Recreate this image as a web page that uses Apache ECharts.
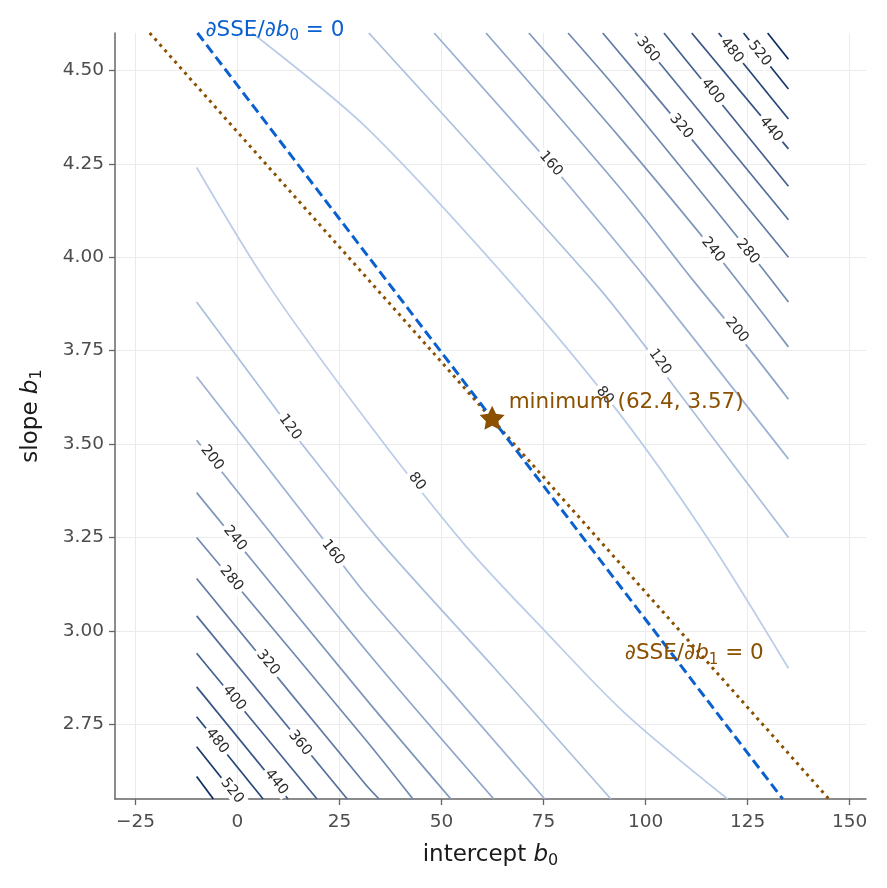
<!DOCTYPE html>
<html>
<head>
<meta charset="utf-8">
<script src="https://cdn.jsdelivr.net/npm/echarts@6/dist/echarts.min.js"></script>
<style>
  html, body { margin: 0; padding: 0; background: #fff; }
  #chart { width: 887px; height: 888px; }
</style>
</head>
<body>
<div id="chart"></div>
<script>
// SSE contour levels, lightest (inner) to darkest (outer)
const levels = [80, 120, 160, 200, 240, 280, 320, 360, 400, 440, 480, 520, 560];

// contour arcs below-left of the valley, one per level, [b0, b1]
const leftLines = [
  [[-10, 4.24], [7.3, 3.93], [32.5, 3.55], [55.7, 3.23], [75.3, 3.00], [94.9, 2.78], [120.1, 2.55]],
  [[-10, 3.88], [9.7, 3.59], [15.8, 3.50], [34.9, 3.24], [63, 2.90], [91.5, 2.55]],
  [[-10, 3.68], [20.7, 3.25], [31.3, 3.10], [51.4, 2.85], [75.3, 2.55]],
  [[-10, 3.51], [31.3, 2.95], [62.8, 2.55]],
  [[-10, 3.37], [31.3, 2.82], [52.3, 2.55]],
  [[-10, 3.25], [31.3, 2.71], [43.0, 2.55]],
  [[-10, 3.14], [31.3, 2.59], [34.7, 2.55]],
  [[-10, 3.04], [26.9, 2.55]],
  [[-10, 2.94], [19.5, 2.55]],
  [[-10, 2.85], [12.4, 2.55]],
  [[-10, 2.77], [6.3, 2.55]],
  [[-10, 2.69], [0.2, 2.55]],
  [[-10, 2.61], [-5.9, 2.55]]
];

// contour arcs above-right of the valley
const rightLines = [
  [[3.6, 4.6], [31.3, 4.35], [66.3, 3.94], [93.7, 3.58], [115.7, 3.24], [135, 2.90]],
  [[32.2, 4.6], [87.6, 3.93], [100, 3.76], [105.9, 3.67], [135, 3.25]],
  [[48.2, 4.6], [73.4, 4.29], [79.8, 4.21], [100.3, 3.94], [135, 3.46]],
  [[60.9, 4.6], [94.9, 4.17], [111.5, 3.94], [125, 3.76], [135, 3.62]],
  [[71.4, 4.6], [93.7, 4.32], [116.5, 4.02], [135, 3.76]],
  [[81.0, 4.6], [93.7, 4.44], [125, 4.02], [135, 3.88]],
  [[89.5, 4.6], [108.7, 4.35], [135, 4.00]],
  [[97.4, 4.6], [135, 4.10]],
  [[104.5, 4.6], [135, 4.19]],
  [[111.3, 4.6], [135, 4.29]],
  [[117.9, 4.6], [135, 4.37]],
  [[124, 4.6], [135, 4.45]],
  [[129.9, 4.6], [135, 4.53]]
];

// inline contour labels: [level, b0, b1]
const contourLabels = [
  [80, 44.0, 3.40], [120, 12.9, 3.545], [160, 23.4, 3.21], [200, -6.2, 3.463],
  [240, -0.6, 3.248], [280, -1.5, 3.14], [320, 7.5, 2.915], [360, 15.3, 2.70],
  [400, -0.8, 2.82], [440, 9.5, 2.595], [480, -5.0, 2.705], [520, -1.3, 2.572],
  [80, 90.0, 3.63], [120, 103.5, 3.72], [160, 76.8, 4.25], [200, 122.3, 3.805],
  [240, 116.5, 4.02], [280, 125.0, 4.015], [320, 108.7, 4.35], [360, 100.6, 4.556],
  [400, 116.4, 4.444], [440, 130.7, 4.342], [480, 121.1, 4.553], [520, 127.9, 4.545]
];

// zero-gradient lines and the minimum
const gradB0Line = [[-9.8, 4.6], [133.6, 2.55]];
const gradB1Line = [[-21.5, 4.6], [144.9, 2.55]];
const minimum = [62.4, 3.57];
const gradB1LabelAt = [94.9, 2.948];

const xTicks = [-25, 0, 25, 50, 75, 100, 125, 150];
const yTicks = [2.75, 3.0, 3.25, 3.5, 3.75, 4.0, 4.25, 4.5];

const FONT = 'DejaVu Sans';
const BLUE = '#0b60cf';
const BROWN = '#8b5000';
const STAR = 'path://M0,-10 L2.94,-4.05 L9.51,-3.09 L4.76,1.55 L5.88,8.09 L0,5 L-5.88,8.09 L-4.76,1.55 L-9.51,-3.09 L-2.94,-4.05 Z';

// light blue-grey -> navy
function levelColor(i) {
  const a = [186, 204, 232], b = [10, 42, 98];
  const t = i / (levels.length - 1);
  const c = a.map((v, k) => Math.round(v + (b[k] - v) * t));
  return `rgb(${c[0]},${c[1]},${c[2]})`;
}

// rich styles for "text b_k" with a lowered subscript
function mathRich(color, size) {
  return {
    n: { fontFamily: FONT, fontSize: size, color: color, lineHeight: 28 },
    i: { fontFamily: FONT, fontSize: size, color: color, fontStyle: 'italic', lineHeight: 28 },
    s: { fontFamily: FONT, fontSize: Math.round(size * 0.7), color: color, lineHeight: 16, verticalAlign: 'bottom' }
  };
}

const chart = echarts.init(document.getElementById('chart'));

function contourSeries() {
  const out = [];
  levels.forEach((lv, i) => {
    [leftLines[i], rightLines[i]].forEach(pts => {
      out.push({
        type: 'line',
        data: pts,
        smooth: 0.3,
        showSymbol: false,
        silent: true,
        z: 2,
        lineStyle: { color: levelColor(i), width: 1.7 }
      });
    });
  });
  return out;
}

const axisCommon = {
  axisLine: { show: true, onZero: false, lineStyle: { color: '#666', width: 1.5 } },
  splitLine: { show: true, lineStyle: { color: '#ebebeb', width: 1 } },
  nameTextStyle: { fontFamily: FONT, fontSize: 23, color: '#1a1a1a', lineHeight: 28,
    rich: mathRich('#1a1a1a', 23) }
};
const tickStyle = { show: true, length: 6, lineStyle: { color: '#666', width: 1.3 } };
const minus = v => (v < 0 ? '\u2212' + Math.abs(v) : String(v));

function buildOption(labelSeries) {
  return {
    animation: false,
    backgroundColor: '#fff',
    grid: { left: 115, right: 21, top: 33, bottom: 89 },
    xAxis: Object.assign({}, axisCommon, {
      type: 'value', min: -30, max: 154,
      name: '{n|intercept }{i|b}{s|0}', nameLocation: 'middle', nameGap: 42,
      axisTick: Object.assign({}, tickStyle, { customValues: xTicks }),
      axisLabel: { customValues: xTicks, fontFamily: FONT, fontSize: 18.5, color: '#4d4d4d', margin: 14,
        formatter: minus }
    }),
    yAxis: Object.assign({}, axisCommon, {
      type: 'value', min: 2.55, max: 4.6,
      name: '{n|slope }{i|b}{s|1}', nameLocation: 'middle', nameGap: 70, nameRotate: 90,
      axisTick: Object.assign({}, tickStyle, { customValues: yTicks }),
      axisLabel: { customValues: yTicks, fontFamily: FONT, fontSize: 18.5, color: '#4d4d4d', margin: 11,
        formatter: v => v.toFixed(2) }
    }),
    series: contourSeries().concat([
      {
        type: 'line', data: gradB1Line, showSymbol: false, silent: true, z: 4,
        lineStyle: { color: BROWN, width: 3, type: [3, 4.5] }
      },
      {
        type: 'line', data: gradB0Line, showSymbol: false, silent: true, z: 5,
        lineStyle: { color: BLUE, width: 3, type: [10, 5] }
      },
      {
        type: 'scatter', data: [gradB0Line[0]], symbolSize: 0, silent: true, z: 6, clip: false,
        itemStyle: { opacity: 1 },
        label: {
          show: true, position: 'right', distance: 8, offset: [0, -3],
          formatter: '{n|∂SSE/∂}{i|b}{s|0}{n| = 0}',
          rich: mathRich(BLUE, 21.5)
        }
      },
      {
        type: 'scatter', data: [gradB1LabelAt], symbolSize: 0, silent: true, z: 6,
        itemStyle: { opacity: 1 },
        label: {
          show: true, position: 'right', distance: 0, offset: [0, 3],
          formatter: '{n|∂SSE/∂}{i|b}{s|1}{n| = 0}',
          rich: mathRich(BROWN, 21.5)
        }
      },
      {
        type: 'scatter', data: [minimum], symbol: STAR, symbolSize: [25, 24], silent: true, z: 7,
        itemStyle: { color: BROWN, opacity: 1 },
        label: {
          show: true, position: 'right', distance: 4, offset: [0, -15],
          formatter: 'minimum (62.4, 3.57)',
          fontFamily: FONT, fontSize: 21.5, color: BROWN
        }
      }
    ], labelSeries || [])
  };
}

chart.setOption(buildOption());

// rotate each inline label along its own contour, in pixel space
function labelAngle(lv, b0, b1) {
  const i = levels.indexOf(lv);
  let best = null;
  [leftLines[i], rightLines[i]].forEach(pts => {
    for (let k = 0; k < pts.length - 1; k++) {
      const p = pts[k], q = pts[k + 1];
      if (b0 >= p[0] - 0.01 && b0 <= q[0] + 0.01) {
        const y = p[1] + (q[1] - p[1]) * (b0 - p[0]) / (q[0] - p[0]);
        const d = Math.abs(y - b1);
        if (!best || d < best.d) best = { d, p, q };
      }
    }
  });
  if (!best) return -50;
  const a = chart.convertToPixel({ gridIndex: 0 }, best.p);
  const b = chart.convertToPixel({ gridIndex: 0 }, best.q);
  return -Math.atan2(b[1] - a[1], b[0] - a[0]) * 180 / Math.PI;
}

const labelSeries = [{
  type: 'scatter',
  symbolSize: 0,
  silent: true,
  z: 3,
  itemStyle: { opacity: 1 },
  data: contourLabels.map(l => ({
    value: [l[1], l[2]],
    label: { formatter: String(l[0]), rotate: labelAngle(l[0], l[1], l[2]) }
  })),
  label: {
    show: true, position: 'inside',
    fontFamily: FONT, fontSize: 14.5, color: '#2b2b2b',
    backgroundColor: '#fff', padding: [0, 3]
  }
}];

chart.setOption(buildOption(labelSeries), true);
</script>
</body>
</html>
